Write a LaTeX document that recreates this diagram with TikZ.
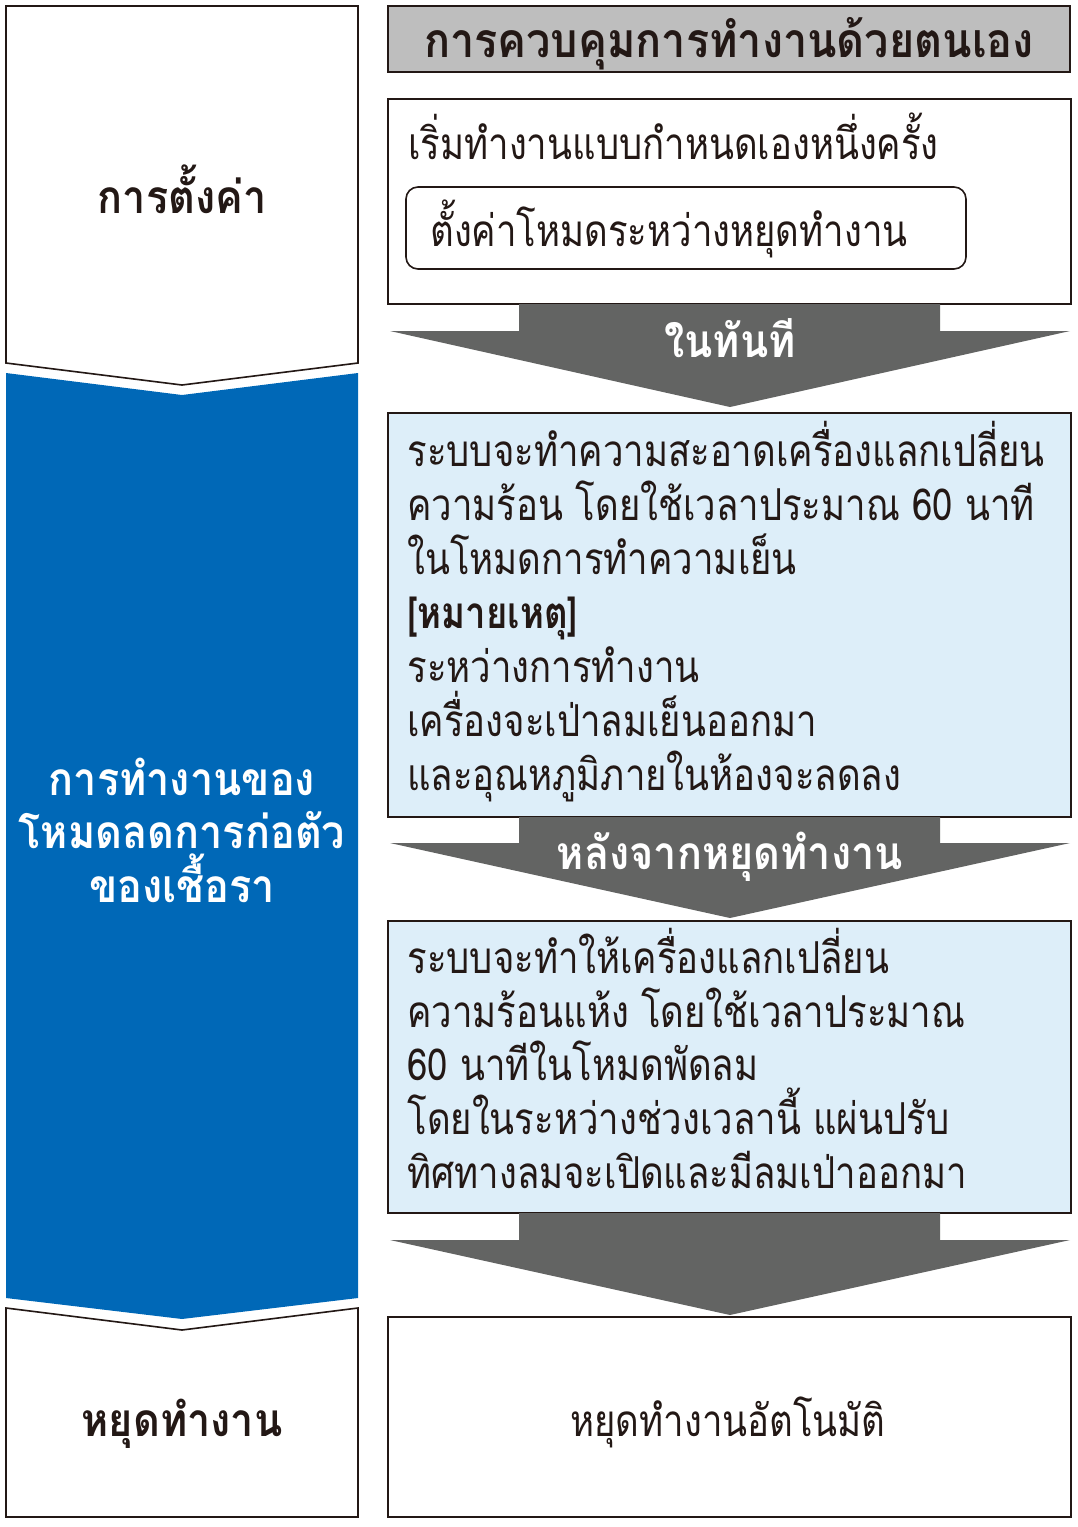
\documentclass[tikz,border=0pt]{standalone}
\usepackage{fontspec}
\setmainfont[Script=Thai]{Loma}
\newfontfamily\thaibody[Script=Thai,FakeStretch=0.83]{Loma}
\newfontfamily\thaihead[Script=Thai,FakeStretch=0.9]{Loma}
\usetikzlibrary{calc}
\definecolor{ink}{HTML}{231815}
\definecolor{blueband}{HTML}{0068B7}
\definecolor{lightblue}{HTML}{DDEEF9}
\definecolor{arrowgray}{HTML}{636463}
\definecolor{titlegray}{HTML}{BEBEBE}
\begin{document}
\begin{tikzpicture}[x=0.5pt,y=-0.5pt,
  box/.style={draw=ink,line width=0.8pt},
  body/.style={anchor=base west,inner sep=0pt,text=ink,font=\thaibody\fontsize{22}{26}\selectfont},
  bodybold/.style={body,font=\thaibody\bfseries\fontsize{22}{26}\selectfont},
  sidelabel/.style={anchor=base,inner sep=0pt,font=\thaihead\bfseries\fontsize{23}{27}\selectfont},
  arrowlabel/.style={anchor=base,text=white,inner sep=0pt,font=\thaihead\bfseries\fontsize{23}{27}\selectfont},
  downarrow/.style={fill=arrowgray}]
\useasboundingbox (0,0) rectangle (1077,1527);
% ---- left column ----
\draw[box,fill=white] (6,6) -- (358,6) -- (358,363) -- (182,385) -- (6,363) -- cycle;
\fill[blueband] (6,373) -- (182,395) -- (358,373) -- (358,1298) -- (182,1319) -- (6,1298) -- cycle;
\draw[box,fill=white] (6,1308) -- (182,1330) -- (358,1308) -- (358,1517) -- (6,1517) -- cycle;
\node[sidelabel,text=ink] (setting) at (182,213) {การตั้งค่า};
\node[sidelabel,text=white] (mode1) at (182,795) {การทำงานของ};
\node[sidelabel,text=white] (mode2) at (182,848) {โหมดลดการก่อตัว};
\node[sidelabel,text=white] (mode3) at (182,902) {ของเชื้อรา};
\node[sidelabel,text=ink] (stop) at (182,1436) {หยุดทำงาน};
% ---- right column ----
\draw[draw=ink,line width=1.4pt,fill=titlegray] (388,6) rectangle (1070,72);
\node[anchor=base,text=ink,inner sep=0pt,font=\thaihead\bfseries\fontsize{24}{28}\selectfont] (title) at (729,57) {การควบคุมการทำงานด้วยตนเอง};
% box 1
\draw[box,fill=white] (388,99) rectangle (1071,304);
\node[body] (b1l1) at (408,159) {เริ่มทำงานแบบกำหนดเองหนึ่งครั้ง};
\draw[box,rounded corners=6pt,fill=white] (406,187) rectangle (966,269);
\node[body] (b1l2) at (430,246) {ตั้งค่าโหมดระหว่างหยุดทำงาน};
% arrow 1
\fill[downarrow] (519,304) -- (940,304) -- (940,331) -- (1070,331) -- (730,407) -- (390,331) -- (519,331) -- cycle;
\node[arrowlabel] (a1) at (730,357) {ในทันที};
% box 2
\draw[box,fill=lightblue] (388,413) rectangle (1071,817);
\node[body] (b2l1) at (407,466) {ระบบจะทำความสะอาดเครื่องแลกเปลี่ยน};
\node[body] (b2l2) at (407,520) {ความร้อน โดยใช้เวลาประมาณ 60 นาที};
\node[body] (b2l3) at (407,574) {ในโหมดการทำความเย็น};
\node[bodybold] (b2l4) at (407,628) {[หมายเหตุ]};
\node[body] (b2l5) at (407,682) {ระหว่างการทำงาน};
\node[body] (b2l6) at (407,736) {เครื่องจะเป่าลมเย็นออกมา};
\node[body] (b2l7) at (407,790) {และอุณหภูมิภายในห้องจะลดลง};
% arrow 2
\fill[downarrow] (519,817) -- (940,817) -- (940,843) -- (1070,843) -- (730,918) -- (390,843) -- (519,843) -- cycle;
\node[arrowlabel] (a2) at (730,869) {หลังจากหยุดทำงาน};
% box 3
\draw[box,fill=lightblue] (388,921) rectangle (1071,1213);
\node[body] (b3l1) at (407,973) {ระบบจะทำให้เครื่องแลกเปลี่ยน};
\node[body] (b3l2) at (407,1027) {ความร้อนแห้ง โดยใช้เวลาประมาณ};
\node[body] (b3l3) at (407,1080) {60 นาทีในโหมดพัดลม};
\node[body] (b3l4) at (407,1134) {โดยในระหว่างช่วงเวลานี้ แผ่นปรับ};
\node[body] (b3l5) at (407,1188) {ทิศทางลมจะเปิดและมีลมเป่าออกมา};
% arrow 3
\fill[downarrow] (519,1213) -- (940,1213) -- (940,1240) -- (1070,1240) -- (730,1315) -- (390,1240) -- (519,1240) -- cycle;
% box 4
\draw[box,fill=white] (388,1317) rectangle (1071,1517);
\node[body,anchor=base] (b4) at (728,1436) {หยุดทำงานอัตโนมัติ};
\end{tikzpicture}
\end{document}
